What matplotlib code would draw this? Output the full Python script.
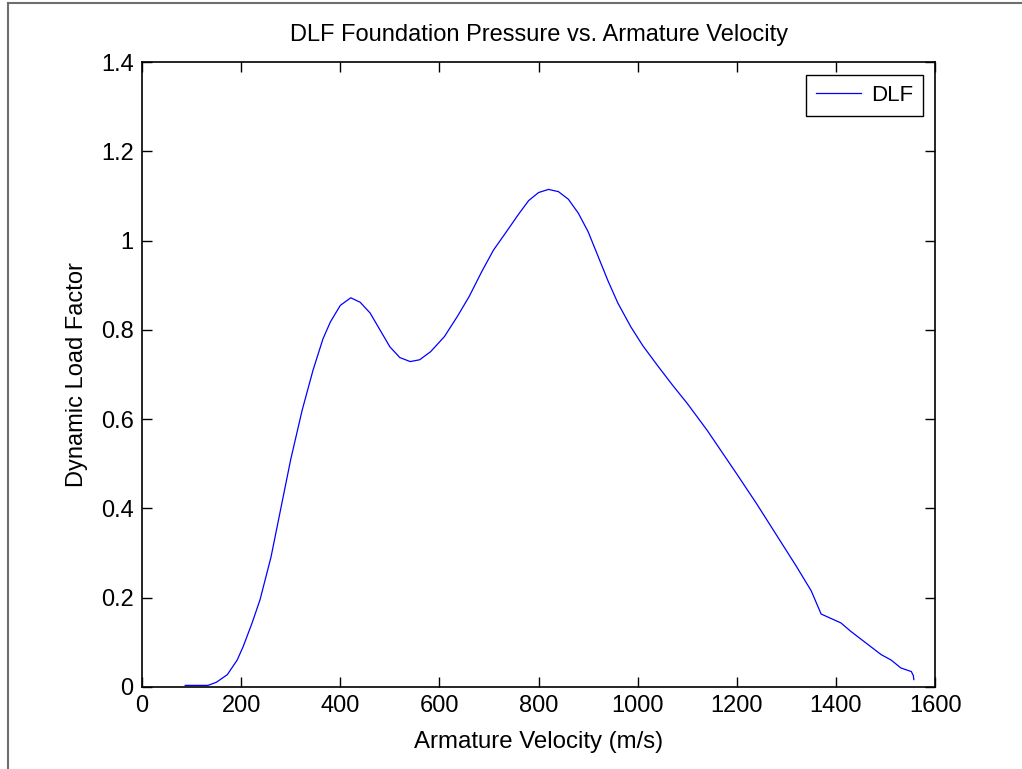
import matplotlib
matplotlib.use("Agg")
import matplotlib.pyplot as plt
from matplotlib.lines import Line2D
import numpy as np

plt.rcParams["font.family"] = ["Liberation Sans", "DejaVu Sans"]

# armature velocity (m/s) and dynamic load factor
velocity = [87, 133, 150, 172, 192, 204, 222, 238, 260, 280, 300, 323, 345, 365, 380,
            400, 421, 440, 460, 480, 500, 520, 541, 560, 582, 610, 636, 660, 685,
            709, 735, 760, 780, 800, 820, 840, 860, 880, 900, 920, 940, 960, 986,
            1010, 1040, 1071, 1100, 1140, 1198, 1240, 1280, 1320, 1350, 1370, 1390,
            1410, 1430, 1457, 1491, 1511, 1531, 1552, 1556, 1557]
dlf = [0.003, 0.003, 0.01, 0.027, 0.06, 0.09, 0.143, 0.195, 0.29, 0.40, 0.51, 0.62, 0.71,
       0.78, 0.818, 0.855, 0.872, 0.862, 0.838, 0.80, 0.762, 0.738, 0.729, 0.733, 0.751,
       0.785, 0.83, 0.875, 0.93, 0.979, 1.02, 1.06, 1.09, 1.108, 1.115, 1.11, 1.093,
       1.062, 1.02, 0.965, 0.91, 0.86, 0.807, 0.765, 0.72, 0.675, 0.635, 0.575, 0.48,
       0.41, 0.34, 0.27, 0.215, 0.163, 0.153, 0.143, 0.124, 0.101, 0.072, 0.06, 0.042,
       0.034, 0.025, 0.016]

fig = plt.figure(figsize=(10.22, 7.69), dpi=100)
ax = fig.add_axes([0.139, 0.107, 0.776, 0.812])

ax.plot(velocity, dlf, color="#0000ff", linewidth=0.9, label="DLF")
ax.set_xlim(0, 1600)
ax.set_ylim(0, 1.4)
ax.set_xticks(np.arange(0, 1601, 200))
ax.set_yticks(np.arange(0, 1.41, 0.2))
ax.set_yticklabels(["0", "0.2", "0.4", "0.6", "0.8", "1", "1.2", "1.4"])
ax.tick_params(direction="in", length=7, width=1, top=True, right=True, labelsize=17, pad=6)
for s in ax.spines.values():
    s.set_linewidth(1.2)

ax.set_title("DLF Foundation Pressure vs. Armature Velocity", fontsize=17, pad=15)
ax.set_xlabel("Armature Velocity (m/s)", fontsize=17.3, labelpad=10)
ax.set_ylabel("Dynamic Load Factor", fontsize=17, labelpad=9)

leg = ax.legend(loc="upper right", fontsize=16, fancybox=False, edgecolor="black",
                handlelength=2.0, handletextpad=0.45, borderpad=0.45,
                borderaxespad=0.55, framealpha=1)
leg.get_frame().set_linewidth(1.0)

# grey frame remnants of the original screenshot
fig.add_artist(Line2D([0.008, 0.008], [0, 0.996], transform=fig.transFigure, color="#6e6e6e", lw=1.5))
fig.add_artist(Line2D([0.008, 1.0], [0.996, 0.996], transform=fig.transFigure, color="#6e6e6e", lw=1.5))

fig.savefig("out.png", dpi=100)
